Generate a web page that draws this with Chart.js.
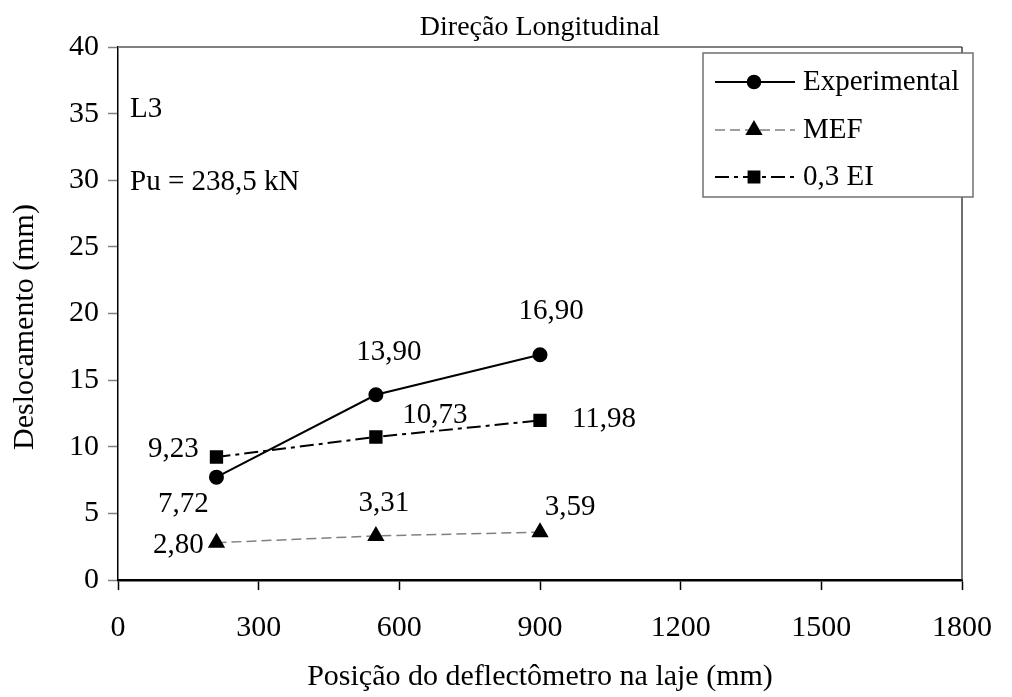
<!DOCTYPE html>
<html>
<head>
<meta charset="utf-8">
<script src="https://cdn.jsdelivr.net/npm/chart.js@4.4.1/dist/chart.umd.min.js"></script>
<style>
    html, body { margin: 0; padding: 0; background: #fff; }
    #wrap { width: 1012px; height: 697px; position: relative; }
</style>
</head>
<body>
<div id="wrap"><canvas id="chart"></canvas></div>
<script>
// Values
const positions = [210, 550, 900];          // posição do deflectômetro (mm)
const experimental = [7.72, 13.90, 16.90];
const mef = [2.80, 3.31, 3.59];
const ei03 = [9.23, 10.73, 11.98];
const seriesNames = ['Experimental', 'MEF', '0,3 EI'];
const xTicks = [0, 300, 600, 900, 1200, 1500, 1800];
const yTicks = [0, 5, 10, 15, 20, 25, 30, 35, 40];

const FONT = "'Liberation Serif', 'Times New Roman', serif";

// where each value label sits relative to its point (dx, dy)
const labelOffsets = [
    [[-33, 27], [13, -42], [11, -43]],
    [[-38, 3], [8, -33], [30, -25]],
    [[-43, -8], [59, -22], [64, -1]]
];

const toXY = vals => positions.map((x, i) => ({ x: x, y: vals[i] }));

// Titles, notes, value labels and the boxed legend
const extrasPlugin = {
    id: 'extras',
    beforeDatasetsDraw(chart) {
        const { ctx, chartArea: a } = chart;
        ctx.save();
        ctx.strokeStyle = '#808080';
        ctx.lineWidth = 2;
        ctx.beginPath();
        ctx.moveTo(a.left, a.top);
        ctx.lineTo(a.right, a.top);
        ctx.stroke();
        ctx.lineWidth = 1.5;
        ctx.strokeStyle = '#404040';
        ctx.beginPath();
        ctx.moveTo(a.right, a.top);
        ctx.lineTo(a.right, a.bottom);
        ctx.stroke();
        ctx.restore();
    },
    afterDraw(chart) {
        const { ctx, chartArea: a } = chart;
        ctx.save();
        ctx.fillStyle = '#000';

        // chart title
        ctx.font = '28px ' + FONT;
        ctx.textAlign = 'center';
        ctx.textBaseline = 'alphabetic';
        ctx.fillText('Direção Longitudinal', (a.left + a.right) / 2, 35);

        // y axis title
        ctx.save();
        ctx.translate(25, 327);
        ctx.rotate(-Math.PI / 2);
        ctx.font = '30px ' + FONT;
        ctx.textBaseline = 'middle';
        ctx.fillText('Deslocamento (mm)', 0, 0);
        ctx.restore();

        // notes
        ctx.font = '29px ' + FONT;
        ctx.textAlign = 'left';
        ctx.fillText('L3', a.left + 12, 117);
        ctx.fillText('Pu = 238,5 kN', a.left + 12, 190);

        // value labels
        ctx.font = '29px ' + FONT;
        ctx.textAlign = 'center';
        ctx.textBaseline = 'middle';
        chart.data.datasets.forEach((ds, di) => {
            chart.getDatasetMeta(di).data.forEach((pt, i) => {
                const off = labelOffsets[di][i];
                const txt = ds.data[i].y.toFixed(2).replace('.', ',');
                ctx.fillText(txt, pt.x + off[0], pt.y + off[1]);
            });
        });

        // legend box
        const box = { left: 703, top: 53, right: 973, bottom: 197 };
        const rows = [82, 130, 177];
        ctx.fillStyle = '#fff';
        ctx.fillRect(box.left, box.top, box.right - box.left, box.bottom - box.top);
        ctx.strokeStyle = '#707070';
        ctx.lineWidth = 1.5;
        ctx.strokeRect(box.left, box.top, box.right - box.left, box.bottom - box.top);

        chart.data.datasets.forEach((ds, di) => {
            const y = rows[di];
            ctx.save();
            ctx.strokeStyle = ds.borderColor;
            ctx.lineWidth = ds.borderWidth;
            ctx.setLineDash(ds.borderDash || []);
            ctx.beginPath();
            ctx.moveTo(box.left + 12, y);
            ctx.lineTo(box.left + 92, y);
            ctx.stroke();
            ctx.restore();
            ctx.fillStyle = '#000';
            ctx.strokeStyle = '#000';
            Chart.helpers.drawPoint(ctx, {
                pointStyle: ds.pointStyle,
                radius: ds.pointRadius,
                rotation: 0,
                borderWidth: 1
            }, box.left + 51, y);
            ctx.fillStyle = '#000';
            ctx.font = '29px ' + FONT;
            ctx.textAlign = 'left';
            ctx.textBaseline = 'middle';
            ctx.fillText(ds.label, box.left + 100, y);
        });
        ctx.restore();
    }
};

const ctx = document.getElementById('chart').getContext('2d');
const chart = new Chart(ctx, {
    type: 'line',
    data: {
        datasets: [
            {
                label: seriesNames[0],
                data: toXY(experimental),
                borderColor: '#000',
                borderWidth: 2,
                pointStyle: 'circle',
                pointRadius: 6.5,
                pointBackgroundColor: '#000',
                pointBorderColor: '#000',
                tension: 0
            },
            {
                label: seriesNames[1],
                data: toXY(mef),
                borderColor: '#808080',
                borderWidth: 1.5,
                borderDash: [10, 5],
                pointStyle: 'triangle',
                pointRadius: 8.5,
                pointBackgroundColor: '#000',
                pointBorderColor: '#000',
                tension: 0
            },
            {
                label: seriesNames[2],
                data: toXY(ei03),
                borderColor: '#000',
                borderWidth: 2,
                borderDash: [14, 5, 4, 5],
                pointStyle: 'rect',
                pointRadius: 8,
                pointBackgroundColor: '#000',
                pointBorderColor: '#000',
                tension: 0
            }
        ]
    },
    options: {
        responsive: true,
        maintainAspectRatio: false,
        animation: false,
        layout: { padding: { top: 47, right: 34, left: 0, bottom: 0 } },
        plugins: {
            legend: { display: false },
            tooltip: { enabled: false },
            title: { display: false }
        },
        scales: {
            x: {
                type: 'linear',
                min: xTicks[0],
                max: xTicks[xTicks.length - 1],
                afterBuildTicks: s => { s.ticks = xTicks.map(v => ({ value: v })); },
                afterFit: s => { s.height = 117; },
                ticks: {
                    font: { family: FONT, size: 30 },
                    color: '#000',
                    padding: 20,
                    maxRotation: 0,
                    callback: v => String(v)
                },
                grid: { drawOnChartArea: false, drawTicks: true, tickLength: 10, tickColor: '#000', tickWidth: 1.5 },
                border: { color: '#000', width: 2.5 },
                title: {
                    display: true,
                    text: 'Posição do deflectômetro na laje (mm)',
                    font: { family: FONT, size: 30 },
                    color: '#000',
                    padding: { top: 0, bottom: 2 }
                }
            },
            y: {
                min: yTicks[0],
                max: yTicks[yTicks.length - 1],
                afterBuildTicks: s => { s.ticks = yTicks.map(v => ({ value: v })); },
                afterFit: s => { s.width = 118; },
                ticks: {
                    font: { family: FONT, size: 30 },
                    color: '#000',
                    padding: 9,
                    callback: v => String(v)
                },
                grid: { drawOnChartArea: false, drawTicks: true, tickLength: 10, tickColor: '#808080', tickWidth: 1.5 },
                border: { color: '#000', width: 1.5 }
            }
        }
    },
    plugins: [extrasPlugin]
});
</script>
</body>
</html>
